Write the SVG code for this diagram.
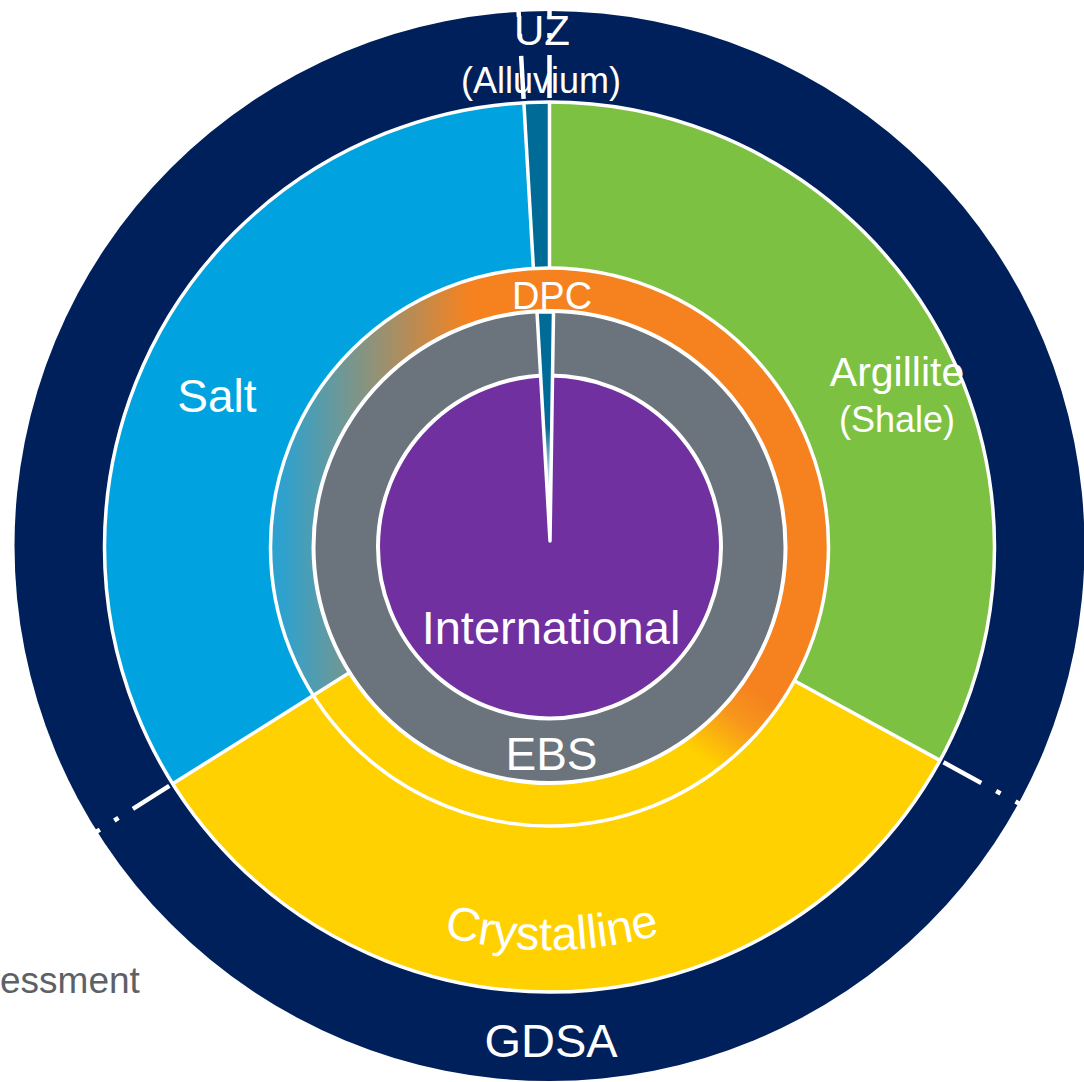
<svg xmlns="http://www.w3.org/2000/svg" width="1084" height="1082" viewBox="0 0 1084 1082">
<style>
text{font-family:"Liberation Sans",Arial,sans-serif;fill:#ffffff;text-anchor:middle}
.wl{stroke:#ffffff;stroke-width:3.5;fill:none}
.tick{stroke:#ffffff;stroke-width:4.5;fill:none;stroke-dasharray:43 17 5 17 5}
</style>
<defs>
<linearGradient id="gDpcL" gradientUnits="userSpaceOnUse" x1="282" y1="0" x2="468" y2="0">
<stop offset="0" stop-color="#2ea2cf"/>
<stop offset="1" stop-color="#f5821f"/>
</linearGradient>
<linearGradient id="gDpcB" gradientUnits="userSpaceOnUse" x1="786" y1="712" x2="736" y2="782">
<stop offset="0" stop-color="#f5821f"/>
<stop offset="0.4" stop-color="#f7961c"/>
<stop offset="1" stop-color="#ffd100"/>
</linearGradient>
<linearGradient id="gNeedle" gradientUnits="userSpaceOnUse" x1="0" y1="312" x2="0" y2="543">
<stop offset="0" stop-color="#006b96"/>
<stop offset="0.5" stop-color="#006b96"/>
<stop offset="0.78" stop-color="#ffffff"/>
</linearGradient>
</defs>
<rect width="1084" height="1082" fill="#ffffff"/>
<text x="0" y="993" style="fill:#5c6168;text-anchor:start;font-size:37px">essment</text>

<g id="gdsa">
<circle cx="549.5" cy="546" r="535" fill="#00205b"/>
<text x="551" y="1057" font-size="47">GDSA</text>
</g>

<g id="salt">
<path d="M549.5,547 L172.7,783.8 A445,445 0 0 1 523.9,102.8 Z" fill="#00a3e0"/>
<text x="217" y="412" font-size="46">Salt</text>
</g>
<g id="uz">
<path d="M549.5,547 L523.9,102.8 A445,445 0 0 1 549.5,102 Z" fill="#006b96"/>
</g>
<g id="argillite">
<path d="M549.5,547 L549.5,102 A445,445 0 0 1 940,760.4 Z" fill="#7dc142"/>
<text x="897" y="386" font-size="41">Argillite</text>
<text x="897" y="432" font-size="36">(Shale)</text>
</g>
<g id="crystalline">
<path d="M549.5,547 L940,760.4 A445,445 0 0 1 172.7,783.8 Z" fill="#ffd100"/>
<path id="crysArc" d="M318.3,877.1 A403,403 0 0 0 780.7,877.1" fill="none"/>
<text font-size="47"><textPath href="#crysArc" startOffset="50.5%">Crystalline</textPath></text>
</g>
<circle class="wl" cx="549.5" cy="547" r="445"/>

<g id="dpc">
<path d="M313.3,695.5 A279,279 0 1 1 794.4,680.8 L756.6,660.2 A236,236 0 1 0 349.7,672.6 Z" fill="url(#gDpcL)"/>
<path d="M794.4,680.8 A279,279 0 0 1 501.1,821.8 L508.5,779.4 A236,236 0 0 0 756.6,660.2 Z" fill="url(#gDpcB)"/>
<circle class="wl" cx="549.5" cy="547" r="279"/>
<text x="552" y="309" font-size="38">DPC</text>
</g>

<g id="connectors">
<line class="wl" x1="794.4" y1="680.8" x2="940" y2="760.4"/>
<line class="wl" x1="349.7" y1="672.6" x2="172.7" y2="783.8"/>
<line class="wl" x1="533.4" y1="268.5" x2="523.9" y2="102.8"/>
<line class="wl" x1="549.5" y1="268" x2="549.5" y2="102"/>
<line class="tick" x1="169.3" y1="785.9" x2="95.7" y2="832.2"/>
<line class="tick" x1="943.5" y1="762.3" x2="1019.9" y2="804"/>
<line class="tick" x1="523.6" y1="98.8" x2="518.6" y2="11.9"/>
<line class="tick" x1="549.5" y1="98" x2="549.5" y2="11"/>
</g>

<g id="ebs">
<circle cx="549.5" cy="547" r="236" fill="#6b737c" stroke="#ffffff" stroke-width="4"/>
<text x="551.5" y="770" font-size="46">EBS</text>
</g>
<g id="international">
<circle cx="549.5" cy="547" r="171.5" fill="#7030a0" stroke="#ffffff" stroke-width="4"/>
<text x="551" y="644" font-size="47">International</text>
</g>
<g id="uz-needle">
<path d="M537,312 L553.5,312 L550,541 Z" fill="url(#gNeedle)" stroke="#ffffff" stroke-width="3.5" stroke-linejoin="round"/>
</g>

<g id="uz-label">
<text x="542" y="45" font-size="42">UZ</text>
<text x="541" y="93" font-size="36">(Alluvium)</text>
</g>
</svg>
